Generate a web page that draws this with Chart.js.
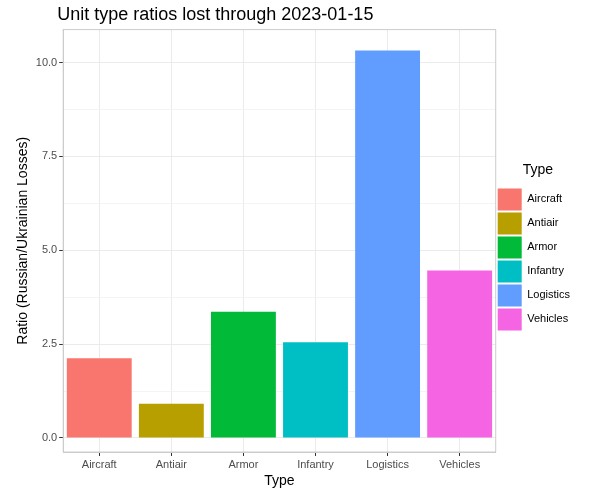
<!DOCTYPE html>
<html><head><script src="https://cdn.jsdelivr.net/npm/chart.js@4"></script>
<style>body{margin:0;background:#fff}#w{width:600px;height:500px}</style></head>
<body><div id="w"><canvas id="c"></canvas></div>
<script>
const categories=["Aircraft","Antiair","Armor","Infantry","Logistics","Vehicles"];
const ratios=[2.12,0.91,3.36,2.55,10.32,4.46];
const colors=["#F8766D","#B79F00","#00BA38","#00BFC4","#619CFF","#F564E3"];
const yTicks=[0,1.25,2.5,3.75,5,6.25,7.5,8.75,10];
const titleText='Unit type ratios lost through 2023-01-15';
const font="Liberation Sans, Arial, sans-serif";
const major=c=>c.tick&&c.tick.value%2.5===0;
new Chart(document.getElementById('c'),{type:'bar',
data:{labels:categories,datasets:[{data:ratios,backgroundColor:colors,categoryPercentage:1,barPercentage:0.9}]},
options:{responsive:true,maintainAspectRatio:false,animation:false,
layout:{padding:{left:11,right:20,top:2,bottom:6}},
plugins:{title:{display:true,text:titleText,align:'start',color:'rgba(0,0,0,0)',font:{family:font,size:18,weight:'normal'},padding:{top:2,bottom:4}},
legend:{position:'right',align:'center',title:{display:true,text:'Type',color:'#000',font:{family:font,size:14},padding:{bottom:6}},
labels:{boxWidth:24,boxHeight:22,color:'#000',font:{family:font,size:11},padding:2,
generateLabels:()=>categories.map((c,i)=>({text:c,fillStyle:colors[i],strokeStyle:colors[i],lineWidth:0,index:i}))},onClick:null},
tooltip:{enabled:false}},
scales:{x:{grid:{color:'#ebebeb',offset:false,drawTicks:true,tickLength:4,tickColor:'#333'},border:{color:'#ccc'},
ticks:{color:'#4d4d4d',font:{family:font,size:11},padding:2},
title:{display:true,text:'Type',color:'#000',font:{family:font,size:14},padding:{top:0}}},
y:{min:-0.375,max:10.88,afterBuildTicks:s=>{s.ticks=yTicks.map(v=>({value:v}))},
grid:{color:c=>major(c)?'#ebebeb':'#f4f4f4',tickLength:4,tickColor:c=>major(c)?'#333':'rgba(0,0,0,0)'},border:{color:'#ccc'},
ticks:{color:'#4d4d4d',font:{family:font,size:11},padding:2,callback:v=>v%2.5===0?v.toFixed(1):''},
title:{display:true,text:'Ratio (Russian/Ukrainian Losses)',color:'#000',font:{family:font,size:14},padding:{bottom:2}}}}},
plugins:[{id:'frame',afterDraw(ch){const a=ch.chartArea,x=ch.ctx;x.save();x.strokeStyle='#ccc';x.lineWidth=1;x.strokeRect(a.left,a.top,a.right-a.left,a.bottom-a.top);
x.fillStyle='#000';x.font='18px '+font;x.textBaseline='middle';x.textAlign='left';x.fillText(titleText,a.left-6,15);x.restore();}}]
});
</script></body></html>
